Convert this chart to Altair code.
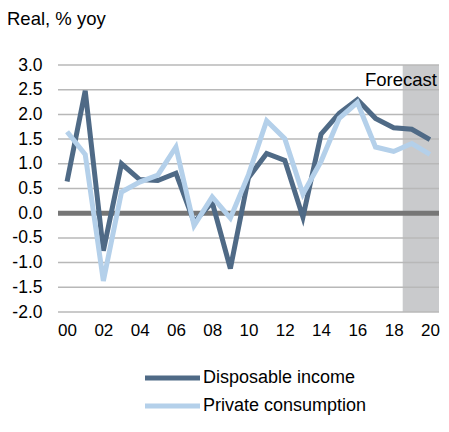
import altair as alt
import pandas as pd

years = list(range(2000, 2021))
income = [0.64, 2.48, -0.76, 1.00, 0.68, 0.66, 0.81, -0.18, 0.22, -1.12, 0.72,
          1.21, 1.07, -0.08, 1.60, 2.02, 2.30, 1.92, 1.73, 1.70, 1.49]
consumption = [1.65, 1.19, -1.37, 0.43, 0.63, 0.77, 1.34, -0.25, 0.33, -0.10, 0.78,
               1.87, 1.51, 0.39, 1.05, 1.92, 2.24, 1.34, 1.25, 1.41, 1.19]
series_names = ["Disposable income", "Private consumption"]
series_colors = ["#4F6A86", "#B4D0EA"]
y_ticks = [-2.0, -1.5, -1.0, -0.5, 0.0, 0.5, 1.0, 1.5, 2.0, 2.5, 3.0]
x_ticks = list(range(2000, 2021, 2))
forecast_start = [2018.5]
forecast_end = [2020.5]
forecast_label = ["Forecast"]
title_text = "Real, % yoy"

FONT = "Liberation Sans"

df = pd.DataFrame({
    "year": years * 2,
    "value": income + consumption,
    "series": [series_names[0]] * len(years) + [series_names[1]] * len(years),
})

xscale = alt.Scale(domain=[1999.5, 2020.5], nice=False, zero=False)
yscale = alt.Scale(domain=[-2.0, 3.0], nice=False, zero=False)

xaxis = alt.Axis(values=x_ticks, labelExpr="substring(toString(datum.value), 2)", title=None,
                 ticks=False, domain=False, grid=False, labelFontSize=17, labelOverlap=False,
                 labelPadding=10, labelColor="#000000", labelFont=FONT)
yaxis = alt.Axis(values=y_ticks, title=None,
                 labelExpr="(datum.value < 0 ? '-' : '') + format(abs(datum.value), '.1f')",
                 ticks=False, domain=False, grid=False, labelFontSize=17.5, labelOverlap=False,
                 labelPadding=16, labelColor="#000000", labelFont=FONT)

shade = alt.Chart(pd.DataFrame({"x": forecast_start, "x2": forecast_end,
                                "y": [y_ticks[-1]], "y2": [y_ticks[0]]})).mark_rect(
    color="#C9CACC").encode(
    x=alt.X("x:Q", scale=xscale, axis=xaxis),
    x2="x2:Q",
    y=alt.Y("y:Q", scale=yscale, axis=yaxis),
    y2="y2:Q",
)

grid = alt.Chart(pd.DataFrame({"y": [t for t in y_ticks if t != 0.0]})).mark_rule(
    color="#B8B8B8", strokeWidth=1.5).encode(y=alt.Y("y:Q", scale=yscale, axis=yaxis))

zero = alt.Chart(pd.DataFrame({"y": [0.0]})).mark_rule(
    color="#767676", strokeWidth=5).encode(y=alt.Y("y:Q", scale=yscale, axis=yaxis))

lines = alt.Chart(df).mark_line(strokeWidth=5, strokeJoin="miter").encode(
    x=alt.X("year:Q", scale=xscale, axis=xaxis),
    y=alt.Y("value:Q", scale=yscale, axis=yaxis),
    color=alt.Color("series:N", scale=alt.Scale(domain=series_names, range=series_colors),
                    legend=None),
    detail="series:N",
)

ftext = alt.Chart(pd.DataFrame({"t": forecast_label})).mark_text(
    align="right", baseline="alphabetic", fontSize=18.5, font=FONT,
    color="#000000").encode(x=alt.value(379), y=alt.value(21), text="t:N")

ttext = alt.Chart(pd.DataFrame({"t": [title_text]})).mark_text(
    align="left", baseline="alphabetic", fontSize=18.5, font=FONT,
    color="#000000").encode(x=alt.value(-51), y=alt.value(-40), text="t:N")

legend_layers = []
for i, (name, col) in enumerate(zip(series_names, series_colors)):
    row_y = 313 + i * 28
    ldf = pd.DataFrame({"name": [name]})
    legend_layers.append(alt.Chart(ldf).mark_rule(color=col, strokeWidth=5).encode(
        x=alt.value(87), x2=alt.value(142), y=alt.value(row_y)))
    legend_layers.append(alt.Chart(ldf).mark_text(
        align="left", baseline="middle", fontSize=18, font=FONT, color="#000000").encode(
        x=alt.value(145), y=alt.value(row_y), text="name:N"))

chart = alt.layer(shade, grid, zero, lines, ftext, ttext, *legend_layers).properties(
    width=381, height=247,
    autosize="none",
    padding={"left": 50, "top": 57, "right": 2, "bottom": 104},
).configure_view(stroke=None).configure_axis(labelOverlap=False)

chart.save("out.html", embed_options={"renderer": "svg", "actions": False})
